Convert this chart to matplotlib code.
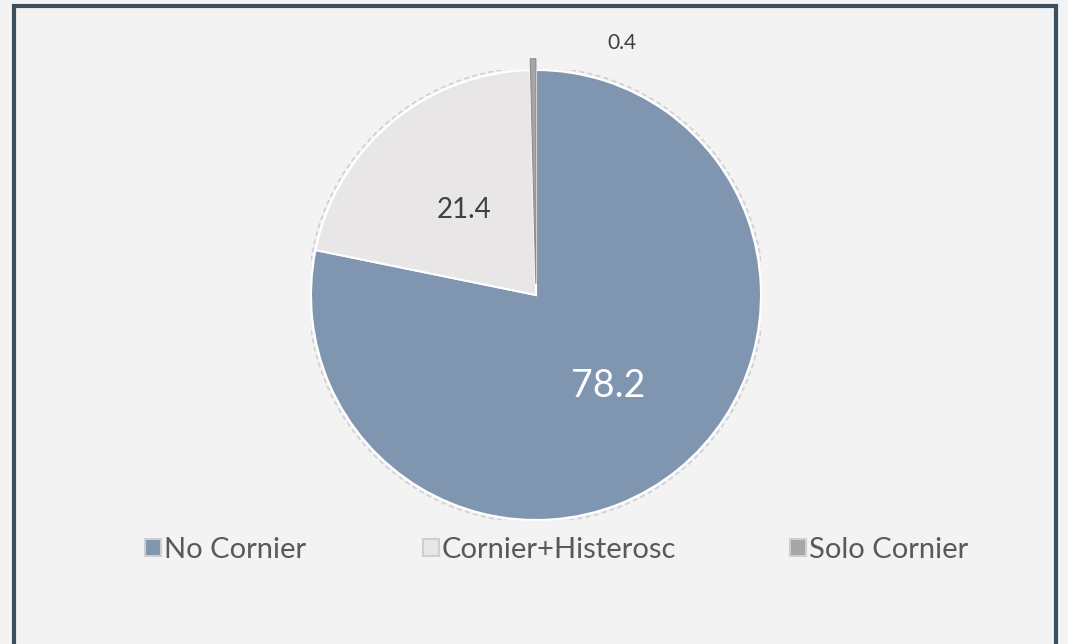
import matplotlib
matplotlib.use("Agg")
import matplotlib.pyplot as plt
from matplotlib.patches import Patch, Circle
import numpy as np

categories = ["No Cornier", "Cornier+Histerosc", "Solo Cornier"]
values = [78.2, 21.4, 0.4]
labels = ["78.2", "21.4", "0.4"]
colors = ["#8095b0", "#e8e6e6", "#a6a6a6"]

plt.rcParams['font.family'] = ['Lato', 'DejaVu Sans']

W, H = 1068, 644
fig = plt.figure(figsize=(W/100, H/100), dpi=100)
fig.patch.set_facecolor("#f3f3f3")

# frame
frame = fig.add_axes([0, 0, 1, 1])
frame.set_xlim(0, W); frame.set_ylim(H, 0); frame.axis("off")
frame.plot([14, 14, 1056, 1056], [H + 5, 6, 6, H + 5], color="#3d4f5c", lw=3, solid_joinstyle="miter")

cx, cy, r = 536, 295, 225
ax = fig.add_axes([(cx - r) / W, (H - cy - r) / H, 2 * r / W, 2 * r / H])
ax.set_facecolor("none")
wedges, _ = ax.pie(values, colors=colors, startangle=90, counterclock=False,
                   explode=[0, 0, 0.05],
                   wedgeprops=dict(edgecolor="white", linewidth=1.5))
wedges[2].set_edgecolor("#8c8c8c")
wedges[2].set_linewidth(0.8)
ax.add_patch(Circle((0, 0), 1.012, fill=False, ls=(0, (3, 2)), ec="#d0d0d0", lw=1.2))
ax.set_xlim(-1, 1); ax.set_ylim(-1, 1); ax.set_aspect("equal"); ax.axis("off")

# labels
for w, lab, i in zip(wedges, labels, range(3)):
    ang = np.deg2rad((w.theta1 + w.theta2) / 2)
    if i == 0:
        ax.text(0.51 * np.cos(ang), 0.51 * np.sin(ang) - 0.01, lab, color="white", fontsize=27,
                ha="center", va="center")
    elif i == 1:
        ax.text(0.495 * np.cos(ang), 0.495 * np.sin(ang), lab, color="#404040", fontsize=20,
                ha="center", va="center")
    else:
        ax.text(0.38, 1.12, lab, color="#404040", fontsize=15,
                ha="center", va="center")

# legend entries
xs = [145, 423, 790]
for x, cat, col in zip(xs, categories, colors):
    h = Patch(facecolor=col, edgecolor="#cfcfcf", lw=1.5)
    fig.legend([h], [cat], loc="center left", bbox_to_anchor=(x / W, 1 - 550 / H),
               frameon=False, fontsize=21, handlelength=0.55, handleheight=0.55,
               handletextpad=0.1, borderpad=0, borderaxespad=0, labelcolor="#595959")

fig.savefig("out.png", dpi=100, facecolor=fig.get_facecolor())
